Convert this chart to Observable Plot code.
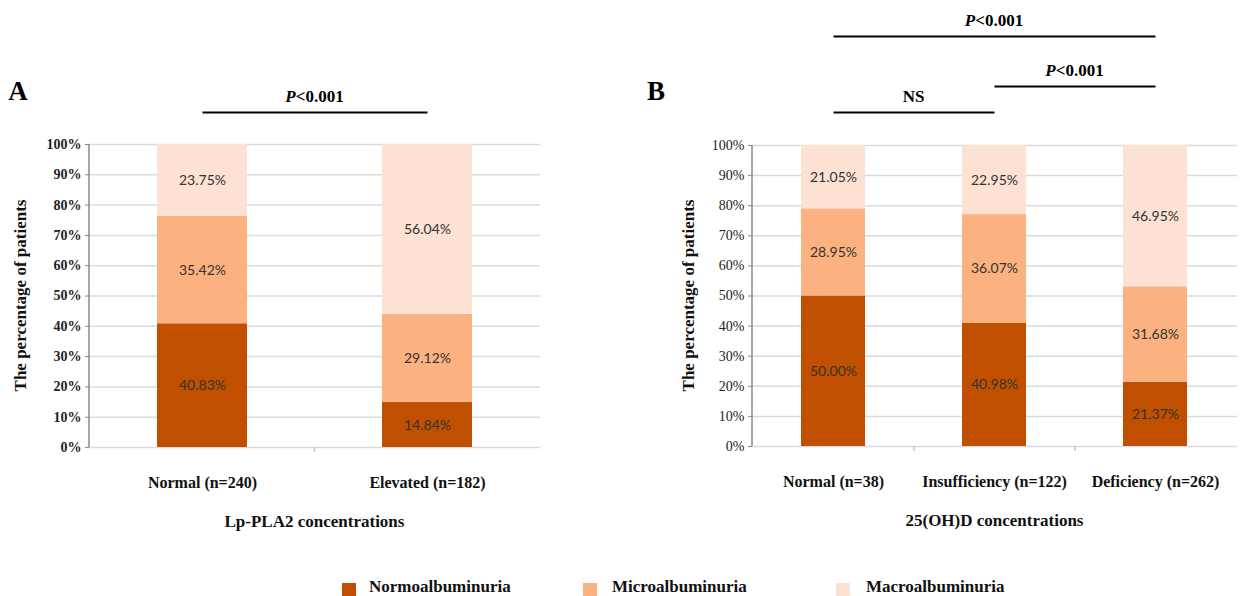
<!DOCTYPE html>
<html>
<head>
<meta charset="utf-8">
<script src="https://cdn.jsdelivr.net/npm/d3@7"></script>
<script src="https://cdn.jsdelivr.net/npm/@observablehq/plot@0.6"></script>
<style>
  html, body { margin: 0; padding: 0; background: #fff; }
  #root { position: relative; width: 1244px; height: 596px; overflow: hidden; background: #fff; font-family: "Liberation Serif", serif; }
  .panel { position: absolute; top: 0; }
  .leg-sw { position: absolute; width: 14px; height: 13px; top: 583px; }
  .leg-tx { position: absolute; top: 577px; font: bold 17px "Liberation Serif", serif; color: #111; line-height: 20px; white-space: nowrap; }
</style>
</head>
<body>
<div id="root">
  <div id="pa" class="panel" style="left:0px"></div>
  <div id="pb" class="panel" style="left:640px"></div>
  <div id="legend"></div>
</div>
<script>
// ---------- data ----------
const seriesNames = ["Normoalbuminuria", "Microalbuminuria", "Macroalbuminuria"];
const seriesColors = ["#c05000", "#fbb280", "#fde1d3"];
const yTicks = [0, 10, 20, 30, 40, 50, 60, 70, 80, 90, 100];

const categoriesA = ["Normal (n=240)", "Elevated (n=182)"];
const normoA = [40.83, 14.84];
const microA = [35.42, 29.12];
const macroA = [23.75, 56.04];
const comparisonsA = [
  {from: "Normal (n=240)", to: "Elevated (n=182)", label: "P<0.001"}
];

const categoriesB = ["Normal (n=38)", "Insufficiency (n=122)", "Deficiency (n=262)"];
const normoB = [50.00, 40.98, 21.37];
const microB = [28.95, 36.07, 31.68];
const macroB = [21.05, 22.95, 46.95];
const comparisonsB = [
  {from: "Normal (n=38)", to: "Insufficiency (n=122)", label: "NS"},
  {from: "Insufficiency (n=122)", to: "Deficiency (n=262)", label: "P<0.001"},
  {from: "Normal (n=38)", to: "Deficiency (n=262)", label: "P<0.001"}
];

// ---------- drawing ----------
const serif = "Liberation Serif";

function panel(cfg) {
  const {categories, series, comparisons, raise, letter, letterX, xTitle, yTitleX,
         width, height, margins, tickWeight} = cfg;
  const [mt, mr, mb, ml] = margins;
  const rows = [];
  series.forEach((vals, si) => vals.forEach((v, ci) =>
    rows.push({cat: categories[ci], type: seriesNames[si], value: v})));

  const chart = Plot.plot({
    width, height,
    marginTop: mt, marginRight: mr, marginBottom: mb, marginLeft: ml,
    style: {background: "transparent", fontFamily: serif, overflow: "visible"},
    x: {domain: categories, paddingInner: 0.6, paddingOuter: 0.3},
    y: {domain: [0, 100]},
    color: {domain: seriesNames, range: seriesColors},
    marks: [
      Plot.ruleY(yTicks, {stroke: "#d9d9e3", strokeWidth: 1.5}),
      Plot.barY(rows, {x: "cat", y: "value", fill: "type"}),
      Plot.text(rows, Plot.stackY({
        x: "cat", y: "value", z: "type",
        text: d => d.value.toFixed(2) + "%",
        fill: "#333333", fontFamily: "Lato", fontSize: 14
      })),
      Plot.axisY({
        ticks: yTicks, tickFormat: d => d + "%", tickSize: 4, tickPadding: 4,
        stroke: "#8a8a8a", fill: "#222", fontFamily: serif, fontSize: 14,
        fontWeight: tickWeight, label: null
      }),
      Plot.axisX({
        tickSize: 0, tickPadding: 29, fontFamily: serif, fontSize: 16,
        fontWeight: "bold", fill: "#111", label: null
      }),
      ...comparisons.map((c, i) => Plot.link([c], {
        x1: "from", x2: "to", y1: () => 100, y2: () => 100,
        dy: -raise[i], stroke: "#000", strokeWidth: 2
      }))
    ]
  });

  const svg = d3.select(chart);
  const xs = chart.scale("x"), ys = chart.scale("y");
  const y0 = ys.apply(0), y100 = ys.apply(100);

  // y axis line
  svg.append("line").attr("x1", ml).attr("x2", ml).attr("y1", y0).attr("y2", y100)
    .attr("stroke", "#8a8a8a").attr("stroke-width", 1.5);

  // category separator ticks
  const step = xs.bandwidth / 0.4;
  categories.slice(1).forEach(c => {
    const xb = xs.apply(c) - step * 0.3;
    svg.append("line").attr("x1", xb).attr("x2", xb).attr("y1", y0).attr("y2", y0 + 5)
      .attr("stroke", "#c8c8c8").attr("stroke-width", 1.5);
  });

  // bracket labels
  comparisons.forEach((c, i) => {
    const cx = (xs.apply(c.from) + xs.apply(c.to)) / 2 + xs.bandwidth / 2;
    const t = svg.append("text").attr("x", cx).attr("y", y100 - raise[i] - 10)
      .attr("text-anchor", "middle").attr("font-family", serif)
      .attr("font-size", 17).attr("font-weight", "bold").attr("fill", "#000");
    if (c.label.startsWith("P")) {
      t.append("tspan").attr("font-style", "italic").text("P");
      t.append("tspan").text(c.label.slice(1));
    } else {
      t.text(c.label);
    }
  });

  // y title
  svg.append("text")
    .attr("transform", `translate(${yTitleX},${(y0 + y100) / 2}) rotate(-90)`)
    .attr("text-anchor", "middle").attr("dy", "0.35em")
    .attr("font-family", serif).attr("font-size", 17).attr("font-weight", "bold")
    .attr("fill", "#111").text("The percentage of patients");

  // x title
  svg.append("text")
    .attr("x", (ml + width - mr) / 2).attr("y", y0 + 80)
    .attr("text-anchor", "middle")
    .attr("font-family", serif).attr("font-size", 17).attr("font-weight", "bold")
    .attr("fill", "#111").text(xTitle);

  // panel letter
  svg.append("text").attr("x", letterX).attr("y", 100)
    .attr("font-family", serif).attr("font-size", 27).attr("font-weight", "bold")
    .attr("fill", "#000").text(letter);

  return chart;
}

document.getElementById("pa").append(panel({
  categories: categoriesA, series: [normoA, microA, macroA], comparisons: comparisonsA,
  raise: [32], letter: "A", letterX: 18, xTitle: "Lp-PLA2 concentrations", yTitleX: 20,
  width: 560, height: 540, margins: [144, 20, 93, 89], tickWeight: "bold"
}));

document.getElementById("pb").append(panel({
  categories: categoriesB, series: [normoB, microB, macroB], comparisons: comparisonsB,
  raise: [33, 59, 109], letter: "B", letterX: 16, xTitle: "25(OH)D concentrations", yTitleX: 48,
  width: 604, height: 540, margins: [145, 7, 94, 112], tickWeight: "normal"
}));

// legend
const legendPos = [[342, 369], [583, 612], [836, 866]];
const legend = document.getElementById("legend");
seriesNames.forEach((name, i) => {
  const sw = document.createElement("div");
  sw.className = "leg-sw";
  sw.style.left = legendPos[i][0] + "px";
  sw.style.background = seriesColors[i];
  const tx = document.createElement("div");
  tx.className = "leg-tx";
  tx.style.left = legendPos[i][1] + "px";
  tx.textContent = name;
  legend.append(sw, tx);
});
</script>
</body>
</html>
